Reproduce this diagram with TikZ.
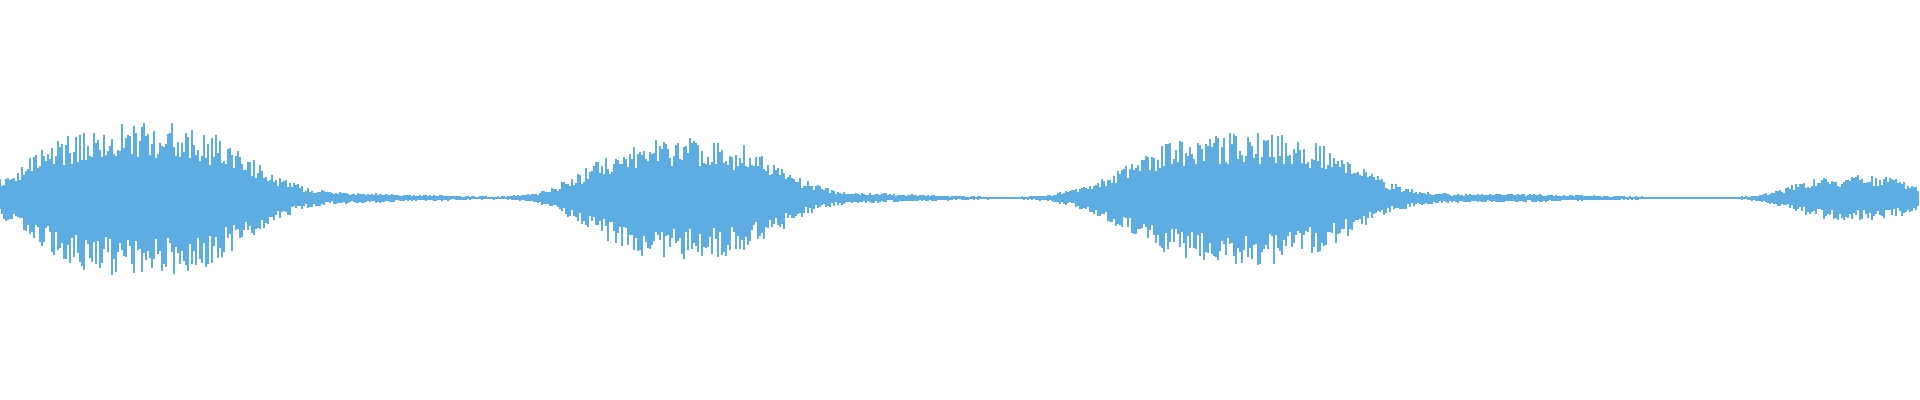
\documentclass[tikz,border=0pt]{standalone}
\usepackage{tikz}
\definecolor{wavecol}{RGB}{93,172,226}
\tikzset{wave/.style={wavecol,line width=0.4pt}}
\pgfmathdeclarefunction{bump}{3}{%
  \pgfmathparse{exp(-(min(abs(#1-#2)/#3,4))^3)}}
\pgfmathdeclarefunction{hump}{3}{%
  \pgfmathparse{exp(-(min(abs(#1-#2)/#3,4))^2)}}
\begin{document}
\begin{tikzpicture}[x=0.01cm,y=0.01cm]
\useasboundingbox (0,0) rectangle (1920,400);
\pgfmathsetseed{7}
\foreach \i in {0,...,959} {
  \pgfmathsetmacro{\xx}{2*\i}
  \pgfmathsetmacro{\env}{78*bump(\xx,140,125)
    +60*bump(\xx,685,110)
    +66*bump(\xx,1240,130)
    +22*bump(\xx,1855,75)
    +4*hump(\xx,360,90)
    +3.5*hump(\xx,880,80)
    +3.5*hump(\xx,1500,110)+1}
  \pgfmathsetmacro{\up}{\env*(0.5+0.5*rnd)}
  \pgfmathsetmacro{\dn}{\env*(0.5+0.5*rnd)}
  \draw[wave] (\xx,202+\up) -- (\xx,202-\dn);
}
\end{tikzpicture}
\end{document}
